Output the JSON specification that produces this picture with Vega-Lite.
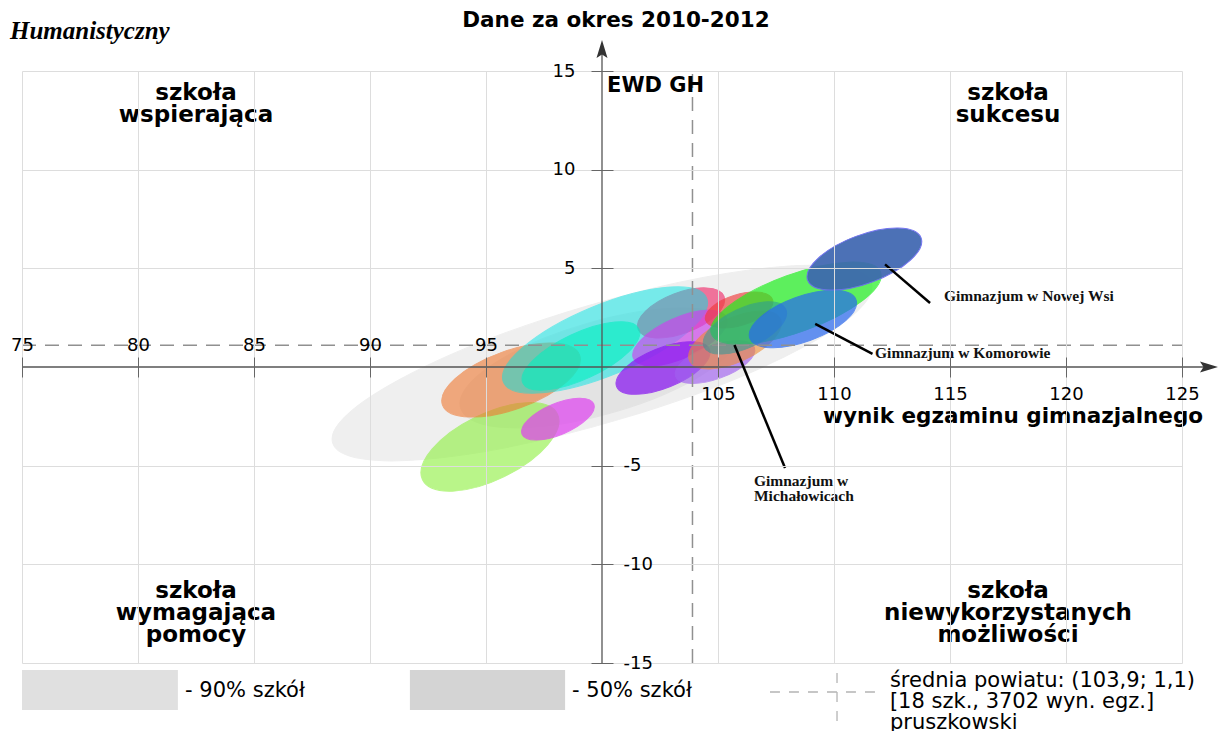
{
  "$schema": "https://vega.github.io/schema/vega-lite/v6.json",
  "width": 1160,
  "height": 592,
  "autosize": {"type": "none"},
  "padding": {"left": 22, "top": 71, "right": 37, "bottom": 68},
  "background": "white",
  "config": {"view": {"stroke": null}, "font": "DejaVu Sans"},
  "datasets": {
    "elipsy": [
      {"szkola": "90% szkół", "wynik": 100.0, "ewd": 0.2, "dl": 24.22, "proporcja": "0.21", "kat": -16.5},
      {"szkola": "50% szkół", "wynik": 99.91, "ewd": -0.05, "dl": 12.5, "proporcja": "0.32", "kat": -16},
      {"szkola": "Gimnazjum 1", "wynik": 95.17, "ewd": -4.05, "dl": 6.47, "proporcja": "0.44", "kat": -26},
      {"szkola": "Gimnazjum 2", "wynik": 96.08, "ewd": -0.66, "dl": 6.29, "proporcja": "0.40", "kat": -20},
      {"szkola": "Gimnazjum 3", "wynik": 98.1, "ewd": -2.64, "dl": 3.36, "proporcja": "0.40", "kat": -23},
      {"szkola": "Gimnazjum 4", "wynik": 103.41, "ewd": 2.74, "dl": 3.97, "proporcja": "0.44", "kat": -21},
      {"szkola": "Gimnazjum 5", "wynik": 100.13, "ewd": 1.37, "dl": 9.48, "proporcja": "0.32", "kat": -22.5},
      {"szkola": "Gimnazjum 6", "wynik": 99.09, "ewd": 0.56, "dl": 5.52, "proporcja": "0.36", "kat": -25},
      {"szkola": "Gimnazjum 7", "wynik": 103.36, "ewd": 1.47, "dl": 4.38, "proporcja": "0.40", "kat": -24},
      {"szkola": "Gimnazjum 8", "wynik": 102.63, "ewd": -0.05, "dl": 4.31, "proporcja": "0.40", "kat": -22},
      {"szkola": "Gimnazjum 9", "wynik": 104.87, "ewd": 0.25, "dl": 3.62, "proporcja": "0.40", "kat": -20},
      {"szkola": "Gimnazjum 10", "wynik": 105.73, "ewd": 1.37, "dl": 4.31, "proporcja": "0.44", "kat": -25},
      {"szkola": "Gimnazjum 11", "wynik": 105.91, "ewd": 2.89, "dl": 3.02, "proporcja": "0.44", "kat": -17},
      {"szkola": "Gimnazjum 12", "wynik": 108.36, "ewd": 3.24, "dl": 7.76, "proporcja": "0.32", "kat": -20},
      {"szkola": "Gimnazjum w Michałowicach", "wynik": 106.16, "ewd": 1.98, "dl": 3.88, "proporcja": "0.44", "kat": -25},
      {"szkola": "Gimnazjum w Komorowie", "wynik": 108.66, "ewd": 2.43, "dl": 4.87, "proporcja": "0.40", "kat": -20},
      {"szkola": "Gimnazjum w Nowej Wsi", "wynik": 111.31, "ewd": 5.47, "dl": 5.22, "proporcja": "0.40", "kat": -20.5}
    ],
    "srednia": [
      {"wynik": 103.9, "ewd": -15, "wynik2": 103.9, "ewd2": 15},
      {"wynik": 75, "ewd": 1.1, "wynik2": 125, "ewd2": 1.1}
    ],
    "osie": [
      {"wynik": 75, "ewd": 0, "wynik2": 126.2, "ewd2": 0},
      {"wynik": 100, "ewd": -15, "wynik2": 100, "ewd2": 16.2}
    ],
    "odnosniki": [
      {"wynik": 112.2, "ewd": 5.2, "wynik2": 114.14, "ewd2": 3.24},
      {"wynik": 109.19, "ewd": 2.18, "wynik2": 111.66, "ewd2": 0.66},
      {"wynik": 105.71, "ewd": 1.11, "wynik2": 107.89, "ewd2": -5.12}
    ],
    "legenda_pola": [
      {"rodzaj": "90% szkół", "wynik": 75, "ewd": -15.36, "wynik2": 81.72, "ewd2": -17.38},
      {"rodzaj": "50% szkół", "wynik": 91.72, "ewd": -15.36, "wynik2": 98.41, "ewd2": -17.38}
    ],
    "legenda_krzyz": [
      {"wynik": 107.24, "ewd": -16.47, "wynik2": 111.98, "ewd2": -16.47},
      {"wynik": 110.13, "ewd": -15.51, "wynik2": 110.13, "ewd2": -18.04}
    ]
  },
  "encoding": {
    "x": {
      "field": "wynik",
      "type": "quantitative",
      "scale": {"domain": [75, 125], "nice": false, "zero": false},
      "axis": {
        "title": null,
        "orient": "bottom",
        "offset": -306,
        "values": [75, 80, 85, 90, 95, 105, 110, 115, 120, 125],
        "domain": false,
        "grid": true,
        "gridColor": "#dddddd",
        "gridWidth": 1,
        "tickSize": 20,
        "tickColor": "#666666",
        "tickWidth": 1,
        "labelFont": "DejaVu Sans",
        "labelFontSize": 18,
        "labelColor": "#000000",
        "labelOverlap": false,
        "labelFlush": false,
        "labelExpr": "'' + datum.value",
        "labelPadding": {"condition": {"test": "datum.value < 100", "value": -27}, "value": 8},
        "labelBaseline": {"condition": {"test": "datum.value < 100", "value": "alphabetic"}, "value": "top"},
        "zindex": 1
      }
    },
    "y": {
      "field": "ewd",
      "type": "quantitative",
      "scale": {"domain": [-15, 15], "nice": false, "zero": false},
      "axis": {
        "title": null,
        "orient": "left",
        "offset": -591,
        "values": [15, 10, 5, -5, -10, -15],
        "domain": false,
        "grid": true,
        "gridColor": "#dddddd",
        "gridWidth": 1,
        "tickSize": 22,
        "tickColor": "#666666",
        "tickWidth": 1,
        "labelFont": "DejaVu Sans",
        "labelFontSize": 18,
        "labelColor": "#000000",
        "labelOverlap": false,
        "labelFlush": false,
        "labelExpr": "'' + datum.value",
        "labelBaseline": "middle",
        "labelAlign": {"condition": {"test": "datum.value > 0", "value": "right"}, "value": "left"},
        "labelPadding": {"condition": {"test": "datum.value > 0", "value": 16}, "value": -32},
        "zindex": 1
      }
    }
  },
  "layer": [
    {
      "data": {"name": "elipsy"},
      "mark": {"type": "point", "filled": true, "strokeWidth": 1},
      "encoding": {
        "shape": {
          "field": "proporcja",
          "type": "nominal",
          "legend": null,
          "scale": {
            "type": "ordinal",
            "domain": ["0.21", "0.32", "0.36", "0.40", "0.44"],
            "range": [
              "M1,0C1,0.116 0.5523,0.21 0,0.21C-0.5523,0.21 -1,0.116 -1,0C-1,-0.116 -0.5523,-0.21 0,-0.21C0.5523,-0.21 1,-0.116 1,0Z",
              "M1,0C1,0.1767 0.5523,0.32 0,0.32C-0.5523,0.32 -1,0.1767 -1,0C-1,-0.1767 -0.5523,-0.32 0,-0.32C0.5523,-0.32 1,-0.1767 1,0Z",
              "M1,0C1,0.1988 0.5523,0.36 0,0.36C-0.5523,0.36 -1,0.1988 -1,0C-1,-0.1988 -0.5523,-0.36 0,-0.36C0.5523,-0.36 1,-0.1988 1,0Z",
              "M1,0C1,0.2209 0.5523,0.4 0,0.4C-0.5523,0.4 -1,0.2209 -1,0C-1,-0.2209 -0.5523,-0.4 0,-0.4C0.5523,-0.4 1,-0.2209 1,0Z",
              "M1,0C1,0.243 0.5523,0.44 0,0.44C-0.5523,0.44 -1,0.243 -1,0C-1,-0.243 -0.5523,-0.44 0,-0.44C0.5523,-0.44 1,-0.243 1,0Z"
            ]
          }
        },
        "size": {
          "field": "dl",
          "type": "quantitative",
          "legend": null,
          "scale": {"type": "pow", "exponent": 2, "domain": [0, 10], "range": [0, 53824], "zero": true}
        },
        "angle": {"field": "kat", "type": "quantitative", "scale": null},
        "fill": {
          "field": "szkola",
          "type": "nominal",
          "legend": null,
          "scale": {
            "type": "ordinal",
            "domain": ["90% szkół", "50% szkół", "Gimnazjum 1", "Gimnazjum 2", "Gimnazjum 3", "Gimnazjum 4", "Gimnazjum 5", "Gimnazjum 6", "Gimnazjum 7", "Gimnazjum 8", "Gimnazjum 9", "Gimnazjum 10", "Gimnazjum 11", "Gimnazjum 12", "Gimnazjum w Michałowicach", "Gimnazjum w Komorowie", "Gimnazjum w Nowej Wsi"],
            "range": ["#efefef", "#e3e3e3", "#8cf03c", "#f07830", "#e040f0", "#f0306e", "#00e6e6", "#00f0c0", "#d040f0", "#8a1cf0", "#a060f0", "#f08c30", "#f03c3c", "#20f020", "#2a9a9a", "#2868f0", "#3d66b0"]
          }
        },
        "stroke": {
          "field": "szkola",
          "type": "nominal",
          "legend": null,
          "scale": {
            "type": "ordinal",
            "domain": ["90% szkół", "50% szkół", "Gimnazjum 1", "Gimnazjum 2", "Gimnazjum 3", "Gimnazjum 4", "Gimnazjum 5", "Gimnazjum 6", "Gimnazjum 7", "Gimnazjum 8", "Gimnazjum 9", "Gimnazjum 10", "Gimnazjum 11", "Gimnazjum 12", "Gimnazjum w Michałowicach", "Gimnazjum w Komorowie", "Gimnazjum w Nowej Wsi"],
            "range": ["#efefef", "#e3e3e3", "#8cf03c", "#f07830", "#e040f0", "#f0306e", "#00e6e6", "#00f0c0", "#d040f0", "#8a1cf0", "#a060f0", "#f08c30", "#f03c3c", "#20f020", "#2a9a9a", "#2868f0", "#6a6af0"]
          }
        },
        "opacity": {
          "field": "szkola",
          "type": "nominal",
          "legend": null,
          "scale": {
            "type": "ordinal",
            "domain": ["90% szkół", "50% szkół", "Gimnazjum 1", "Gimnazjum 2", "Gimnazjum 3", "Gimnazjum 4", "Gimnazjum 5", "Gimnazjum 6", "Gimnazjum 7", "Gimnazjum 8", "Gimnazjum 9", "Gimnazjum 10", "Gimnazjum 11", "Gimnazjum 12", "Gimnazjum w Michałowicach", "Gimnazjum w Komorowie", "Gimnazjum w Nowej Wsi"],
            "range": [1, 1, 0.6, 0.6, 0.7, 0.65, 0.5, 0.6, 0.65, 0.75, 0.65, 0.6, 0.65, 0.7, 0.55, 0.7, 0.92]
          }
        }
      }
    },
    {
      "data": {"name": "srednia"},
      "mark": {"type": "rule", "color": "#909090", "strokeWidth": 1.5, "strokeDash": [14, 9]},
      "encoding": {"x2": {"field": "wynik2"}, "y2": {"field": "ewd2"}}
    },
    {
      "data": {"name": "osie"},
      "mark": {"type": "rule", "color": "#555555", "strokeWidth": 1.3},
      "encoding": {"x2": {"field": "wynik2"}, "y2": {"field": "ewd2"}}
    },
    {
      "data": {"values": [{"wynik": 100, "ewd": 16.06}]},
      "mark": {"type": "point", "filled": true, "opacity": 1, "color": "#333333", "size": 400, "shape": "M0,-1L0.55,0.8L0,0.45L-0.55,0.8Z"},
      "encoding": {}
    },
    {
      "data": {"values": [{"wynik": 126.12, "ewd": 0}]},
      "mark": {"type": "point", "filled": true, "opacity": 1, "color": "#333333", "size": 400, "angle": 90, "shape": "M0,-1L0.55,0.8L0,0.45L-0.55,0.8Z"},
      "encoding": {}
    },
    {
      "data": {"name": "odnosniki"},
      "mark": {"type": "rule", "color": "#000000", "strokeWidth": 2.5},
      "encoding": {"x2": {"field": "wynik2"}, "y2": {"field": "ewd2"}}
    },
    {
      "data": {"name": "legenda_pola"},
      "mark": {"type": "rect"},
      "encoding": {
        "x2": {"field": "wynik2"},
        "y2": {"field": "ewd2"},
        "color": {"field": "rodzaj", "type": "nominal", "legend": null, "scale": {"domain": ["90% szkół", "50% szkół"], "range": ["#e0e0e0", "#d4d4d4"]}}
      }
    },
    {
      "data": {"name": "legenda_krzyz"},
      "mark": {"type": "rule", "color": "#b4b4b4", "strokeWidth": 1.3, "strokeDash": [10, 9]},
      "encoding": {"x2": {"field": "wynik2"}, "y2": {"field": "ewd2"}}
    },
    {
      "data": {"values": [
        {"wynik": 82.5, "ewd": 13.52, "tekst": "szkoła\nwspierająca"},
        {"wynik": 117.5, "ewd": 13.52, "tekst": "szkoła\nsukcesu"},
        {"wynik": 82.5, "ewd": -11.7, "tekst": "szkoła\nwymagająca\npomocy"},
        {"wynik": 117.5, "ewd": -11.7, "tekst": "szkoła\nniewykorzystanych\nmożliwości"}
      ]},
      "mark": {"type": "text", "font": "DejaVu Sans", "fontWeight": "bold", "fontSize": 23, "lineHeight": 22, "lineBreak": "\n", "align": "center", "baseline": "alphabetic", "color": "#000000"},
      "encoding": {"text": {"field": "tekst", "type": "nominal"}}
    },
    {
      "data": {"values": [{"wynik": 100.6, "ewd": 17.23, "tekst": "Dane za okres 2010-2012"}]},
      "mark": {"type": "text", "font": "DejaVu Sans", "fontWeight": "bold", "fontSize": 21.5, "align": "center", "baseline": "alphabetic", "color": "#000000"},
      "encoding": {"text": {"field": "tekst", "type": "nominal"}}
    },
    {
      "data": {"values": [{"wynik": 100.22, "ewd": 13.94, "tekst": "EWD GH"}]},
      "mark": {"type": "text", "font": "DejaVu Sans", "fontWeight": "bold", "fontSize": 21, "align": "left", "baseline": "alphabetic", "color": "#000000"},
      "encoding": {"text": {"field": "tekst", "type": "nominal"}}
    },
    {
      "data": {"values": [{"wynik": 125.91, "ewd": -2.82, "tekst": "wynik egzaminu gimnazjalnego"}]},
      "mark": {"type": "text", "font": "DejaVu Sans", "fontWeight": "bold", "fontSize": 21.5, "align": "right", "baseline": "alphabetic", "color": "#000000"},
      "encoding": {"text": {"field": "tekst", "type": "nominal"}}
    },
    {
      "data": {"values": [{"wynik": 74.48, "ewd": 16.6, "tekst": "Humanistyczny"}]},
      "mark": {"type": "text", "font": "Liberation Serif", "fontWeight": "bold", "fontStyle": "italic", "fontSize": 25, "align": "left", "baseline": "alphabetic", "color": "#000000"},
      "encoding": {"text": {"field": "tekst", "type": "nominal"}}
    },
    {
      "data": {"values": [
        {"wynik": 114.74, "ewd": 3.34, "tekst": "Gimnazjum w Nowej Wsi"},
        {"wynik": 111.77, "ewd": 0.46, "tekst": "Gimnazjum w Komorowie"},
        {"wynik": 106.55, "ewd": -6.03, "tekst": "Gimnazjum w\nMichałowicach"}
      ]},
      "mark": {"type": "text", "font": "Liberation Serif", "fontWeight": "bold", "fontSize": 15.5, "lineHeight": 15.5, "lineBreak": "\n", "align": "left", "baseline": "alphabetic", "color": "#111111"},
      "encoding": {"text": {"field": "tekst", "type": "nominal"}}
    },
    {
      "data": {"values": [
        {"wynik": 82.03, "ewd": -16.72, "tekst": "- 90% szkół"},
        {"wynik": 98.71, "ewd": -16.72, "tekst": "- 50% szkół"},
        {"wynik": 112.41, "ewd": -16.2, "tekst": "średnia powiatu: (103,9; 1,1)\n[18 szk., 3702 wyn. egz.]\npruszkowski"}
      ]},
      "mark": {"type": "text", "font": "DejaVu Sans", "fontSize": 21, "lineHeight": 21.2, "lineBreak": "\n", "align": "left", "baseline": "alphabetic", "color": "#000000"},
      "encoding": {"text": {"field": "tekst", "type": "nominal"}}
    }
  ]
}
